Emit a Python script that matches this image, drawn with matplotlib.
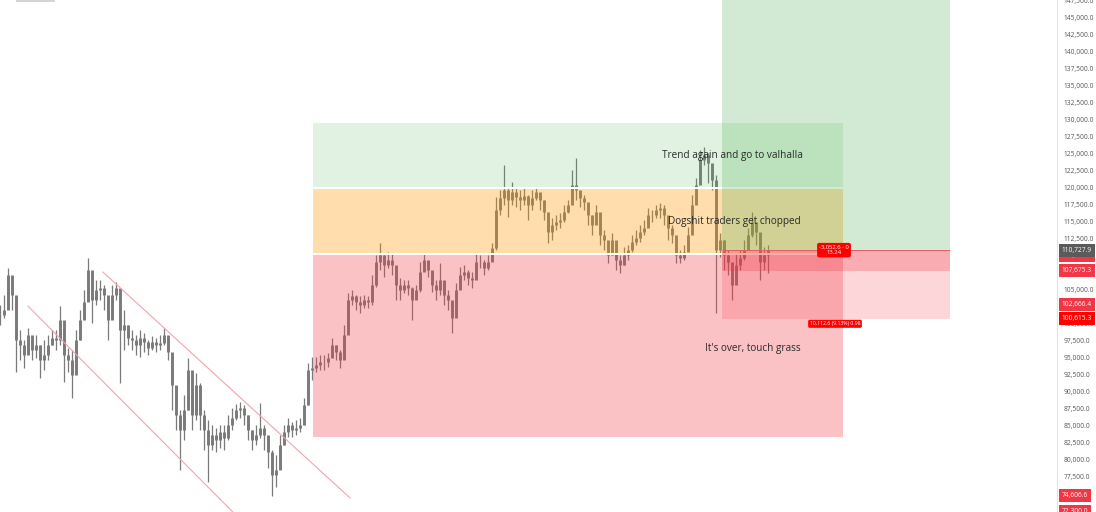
import numpy as np
import matplotlib.pyplot as plt
import matplotlib.transforms as mtransforms
from matplotlib.patches import Rectangle

# BTC price bars (thousands of USD)
close = [101.2, 101.9, 107.1, 104.1, 97.5, 96.8, 95.3, 98.3, 96.0, 96.8,
         94.6, 95.3, 96.8, 97.8, 97.5, 100.5, 95.3, 94.6, 92.4, 97.5,
         100.5, 103.1, 107.8, 103.4, 104.9, 105.2, 104.1, 100.5, 104.1, 105.2,
         99.0, 99.7, 97.8, 97.5, 96.8, 97.8, 97.2, 96.3, 97.2, 96.8,
         97.1, 98.3, 95.8, 90.9, 86.5, 84.3, 87.2, 93.1, 86.5, 90.9,
         86.5, 84.3, 82.1, 83.6, 82.8, 84.0, 83.1, 85.0, 86.1, 87.2,
         87.5, 86.5, 84.3, 82.8, 83.6, 84.6, 83.6, 81.1, 77.7, 78.4,
         82.1, 84.0, 85.0, 84.3, 84.6, 85.0, 88.0, 93.1, 93.4, 93.8,
         94.3, 94.3, 94.9, 96.8, 95.8, 94.6, 98.3, 103.4, 104.0, 103.1,
         102.7, 103.4, 103.1, 105.6, 109.0, 110.0, 108.5, 109.3, 108.5, 105.6,
         104.9, 105.6, 105.2, 103.4, 104.9, 107.5, 109.3, 107.8, 105.6, 104.9,
         106.3, 104.1, 103.4, 100.8, 104.9, 107.1, 107.5, 106.6, 106.3, 109.0,
         109.0, 108.1, 109.0, 111.0, 116.6, 118.4, 119.6, 118.1, 119.3, 118.5,
         118.1, 118.7, 117.4, 118.4, 119.3, 118.1, 116.3, 113.4, 114.4, 114.9,
         115.2, 116.3, 117.4, 120.3, 119.6, 118.4, 117.8, 115.9, 114.4, 116.3,
         113.0, 112.2, 110.0, 112.2, 109.3, 108.5, 110.0, 110.7, 111.9, 112.5,
         113.4, 114.0, 115.9, 115.9, 116.6, 116.9, 115.9, 114.0, 113.0, 110.0,
         109.6, 110.5, 113.0, 117.4, 120.3, 124.0, 124.7, 123.5, 121.0, 110.7,
         112.2, 110.0, 109.0, 105.6, 108.5, 109.6, 110.7, 113.0, 114.9, 113.4,
         109.0, 110.0, 110.7]
high = [102.7, 104.1, 108.1, 106.3, 103.4, 99.0, 97.5, 99.3, 97.5, 98.3,
        96.8, 97.5, 98.3, 99.0, 99.0, 102.5, 98.3, 96.3, 96.0, 99.0,
        101.9, 104.9, 109.6, 106.8, 106.3, 106.3, 105.6, 103.4, 105.6, 106.0,
        102.7, 101.9, 99.7, 99.0, 98.3, 99.0, 98.5, 97.5, 98.1, 97.8,
        98.3, 99.3, 97.5, 94.6, 89.4, 87.2, 89.4, 94.9, 90.2, 92.7,
        91.2, 87.2, 85.8, 85.0, 84.6, 85.0, 85.0, 86.5, 87.5, 88.1,
        88.4, 88.0, 86.5, 84.3, 85.0, 88.3, 85.0, 82.8, 81.3, 80.6,
        83.6, 85.0, 86.1, 85.5, 85.8, 86.1, 89.0, 94.1, 95.0, 95.0,
        95.3, 95.3, 95.6, 97.8, 96.8, 96.0, 99.7, 104.4, 104.9, 104.1,
        104.0, 104.1, 104.0, 107.1, 110.0, 111.8, 110.0, 110.5, 110.3, 107.8,
        106.6, 106.3, 106.3, 105.3, 105.6, 109.0, 110.3, 109.0, 107.1, 106.3,
        108.8, 105.6, 104.9, 102.7, 105.9, 108.3, 108.5, 107.8, 107.5, 110.3,
        110.0, 109.3, 110.0, 111.8, 118.5, 119.6, 123.2, 120.0, 120.7, 120.0,
        119.6, 119.9, 118.8, 119.6, 119.9, 119.1, 118.1, 115.2, 115.5, 115.9,
        116.2, 117.4, 118.1, 122.5, 124.3, 119.3, 118.8, 117.7, 115.9, 117.4,
        115.2, 113.7, 111.5, 113.2, 111.0, 110.0, 111.2, 111.5, 113.0, 113.7,
        114.4, 115.2, 116.9, 116.6, 117.4, 117.7, 117.4, 115.5, 114.4, 111.5,
        110.7, 111.5, 114.1, 118.8, 121.3, 125.4, 125.9, 125.0, 122.5, 121.8,
        113.2, 112.2, 110.7, 107.8, 110.3, 110.7, 112.2, 114.0, 116.3, 114.4,
        110.7, 111.2, 111.5]
low = [99.7, 100.8, 103.4, 101.9, 92.8, 94.6, 93.4, 96.0, 94.6, 94.9,
       91.9, 93.1, 94.6, 96.8, 96.0, 96.8, 91.3, 92.8, 89.0, 94.6,
       97.5, 101.2, 103.4, 100.0, 102.7, 103.4, 101.9, 97.5, 102.7, 103.4,
       91.2, 96.0, 96.8, 96.0, 95.3, 95.0, 95.8, 95.3, 96.0, 95.8,
       96.0, 96.8, 94.6, 87.2, 84.3, 78.4, 82.8, 87.2, 84.3, 85.8,
       84.3, 81.3, 76.6, 81.3, 81.1, 81.6, 81.3, 82.8, 84.3, 85.8,
       86.1, 85.0, 82.8, 81.3, 82.1, 83.1, 81.3, 78.7, 74.6, 75.9,
       79.9, 82.1, 83.3, 83.3, 83.6, 84.0, 85.0, 88.0, 91.6, 92.8,
       93.1, 93.1, 93.6, 95.3, 94.6, 93.4, 95.3, 99.0, 102.7, 101.9,
       101.5, 102.2, 102.2, 102.7, 105.3, 107.8, 106.8, 108.1, 107.1, 103.4,
       103.4, 104.4, 104.1, 100.5, 103.7, 104.6, 107.8, 106.8, 104.6, 103.4,
       104.1, 102.7, 101.9, 98.5, 103.4, 105.9, 106.3, 105.6, 105.2, 107.8,
       108.1, 107.1, 107.8, 109.7, 110.7, 115.9, 117.4, 115.6, 117.4, 117.1,
       116.6, 117.4, 115.2, 116.6, 118.1, 116.6, 115.2, 111.8, 112.2, 113.7,
       114.0, 114.9, 116.2, 118.1, 118.1, 117.1, 116.6, 114.4, 113.0, 115.2,
       111.5, 110.7, 108.8, 110.3, 107.8, 107.4, 108.5, 109.3, 110.5, 111.5,
       111.9, 113.0, 114.4, 114.9, 115.5, 115.5, 114.4, 112.2, 111.8, 108.8,
       108.8, 109.3, 111.2, 114.4, 118.1, 121.8, 123.2, 120.6, 119.6, 101.5,
       109.7, 107.8, 107.1, 103.4, 106.3, 107.8, 109.3, 111.5, 112.7, 111.5,
       106.3, 107.8, 107.4]

close = np.array(close) * 1000
high = np.array(high) * 1000
low = np.array(low) * 1000
open_ = np.r_[close[0], close[:-1]]
bars = np.arange(len(close))

# scenario zones
zone_tops = [129400, 119900, 110100]
zone_bottoms = [119900, 110100, 83300]
zone_colors = ["#4caf50", "#ff9800", "#f23645"]
zone_alphas = [0.16, 0.32, 0.30]
zone_start, zone_end = 78.25, 210.75
zone_texts = ["Trend again and go to valhalla", "Dogshit traders get chopped", "It's over, touch grass"]
zone_text_x = [183.0, 183.6, 188.3]
zone_text_y = [124700, 115000, 96300]

# long position tool
pos_start, pos_end = 180.5, 237.5
entry = 110727.9
stop = 100615.3
current = 107675.3
rr = 13.24
target = entry + rr * (entry - stop)

# channel lines
chan_x = [[25.75, 87.5], [7.0, 58.25]]
chan_y = [[107500, 74300], [102500, 72200]]

# price scale labels
axis_prices = [109900, 110727.9, 107675.3, 102666.4, 100615.3, 74606.6, 72300]
axis_texts = ["109,898.0", "110,727.9", "107,675.3", "102,666.4", "100,615.3", "74,606.6", "72,300.0"]
axis_colors = ["#f23645", "#5b5b5b", "#f23645", "#f23645", "#ff0000", "#f23645", "#f23645"]

plt.rcParams['font.family'] = ['Open Sans', 'DejaVu Sans']

fig = plt.figure(figsize=(10.96, 5.12), dpi=100)
ax = fig.add_axes([0, 0, 1057 / 1096, 1])
ax.set_xlim(0, 264.25)
ax.set_ylim(72230, 147490)

candle_color = "#7a7a7a"
ax.vlines(bars, low, high, color=candle_color, linewidth=0.9, zorder=1)
ax.vlines(bars, np.minimum(open_, close), np.maximum(open_, close),
          color=candle_color, linewidth=2.1, zorder=1)

for top, bottom, c, a in zip(zone_tops, zone_bottoms, zone_colors, zone_alphas):
    ax.add_patch(Rectangle((zone_start, bottom), zone_end - zone_start, top - bottom,
                           facecolor=c, alpha=a, edgecolor="none", zorder=2))
ax.hlines(zone_bottoms[:2], zone_start, zone_end, color="white", linewidth=1.4, zorder=2.2)

# position boxes
ax.add_patch(Rectangle((pos_start, entry), pos_end - pos_start, target - entry,
                       facecolor="#4caf50", alpha=0.25, edgecolor="none", zorder=3))
ax.add_patch(Rectangle((pos_start, stop), pos_end - pos_start, entry - stop,
                       facecolor="#f23645", alpha=0.2, edgecolor="none", zorder=3))
ax.add_patch(Rectangle((pos_start, current), pos_end - pos_start, entry - current,
                       facecolor="#f23645", alpha=0.25, edgecolor="none", zorder=3))
ax.hlines(entry, pos_start, pos_end, color="#e0606a", linewidth=0.7, zorder=3.1)

for cx, cy in zip(chan_x, chan_y):
    ax.plot(cx, cy, color="#f4a3ab", linewidth=0.8, zorder=1.5)

for t, tx, ty in zip(zone_texts, zone_text_x, zone_text_y):
    ax.text(tx, ty, t, ha="center", va="center", fontsize=7.2, color="#2a2a2a", zorder=6)

ax.text(208.5, entry, "-3,052.6 - 0\n13.24", ha="center", va="center", fontsize=4.2,
        color="white", linespacing=1.1, zorder=7,
        bbox=dict(boxstyle="round,pad=0.35", fc="#ff0000", ec="none"))
ax.text(208.75, 99900, "10,112.6 (9.13%) 0.98", ha="center", va="center", fontsize=3.7,
        color="white", zorder=7,
        bbox=dict(boxstyle="round,pad=0.3", fc="#ff0000", ec="none"))

# right price scale
ax.yaxis.tick_right()
ax.set_yticks(np.arange(72500, 150000, 2500))
ax.yaxis.set_major_formatter(lambda v, p: f"{v:,.1f}")
ax.tick_params(axis="y", length=0, pad=5, labelsize=4.8, labelcolor="#555555")
ax.set_xticks([])
for s in ["top", "left", "bottom"]:
    ax.spines[s].set_visible(False)
ax.spines["right"].set_color("#e3e3e3")
ax.spines["right"].set_linewidth(0.8)

trans = mtransforms.blended_transform_factory(ax.transAxes, ax.transData)
for p, t, c in zip(axis_prices, axis_texts, axis_colors):
    ax.text(1.0045, p, t, transform=trans, ha="left", va="center", fontsize=4.8,
            color="white", clip_on=False, zorder=10,
            bbox=dict(boxstyle="square,pad=0.45", fc=c, ec="none"))

# toolbar remnant at top-left
fig.patches.append(Rectangle((16 / 1096, 1 - 2 / 512), 39 / 1096, 2 / 512,
                             transform=fig.transFigure, facecolor="#d5d5d5", edgecolor="none"))

fig.savefig("out.png", dpi=100)
